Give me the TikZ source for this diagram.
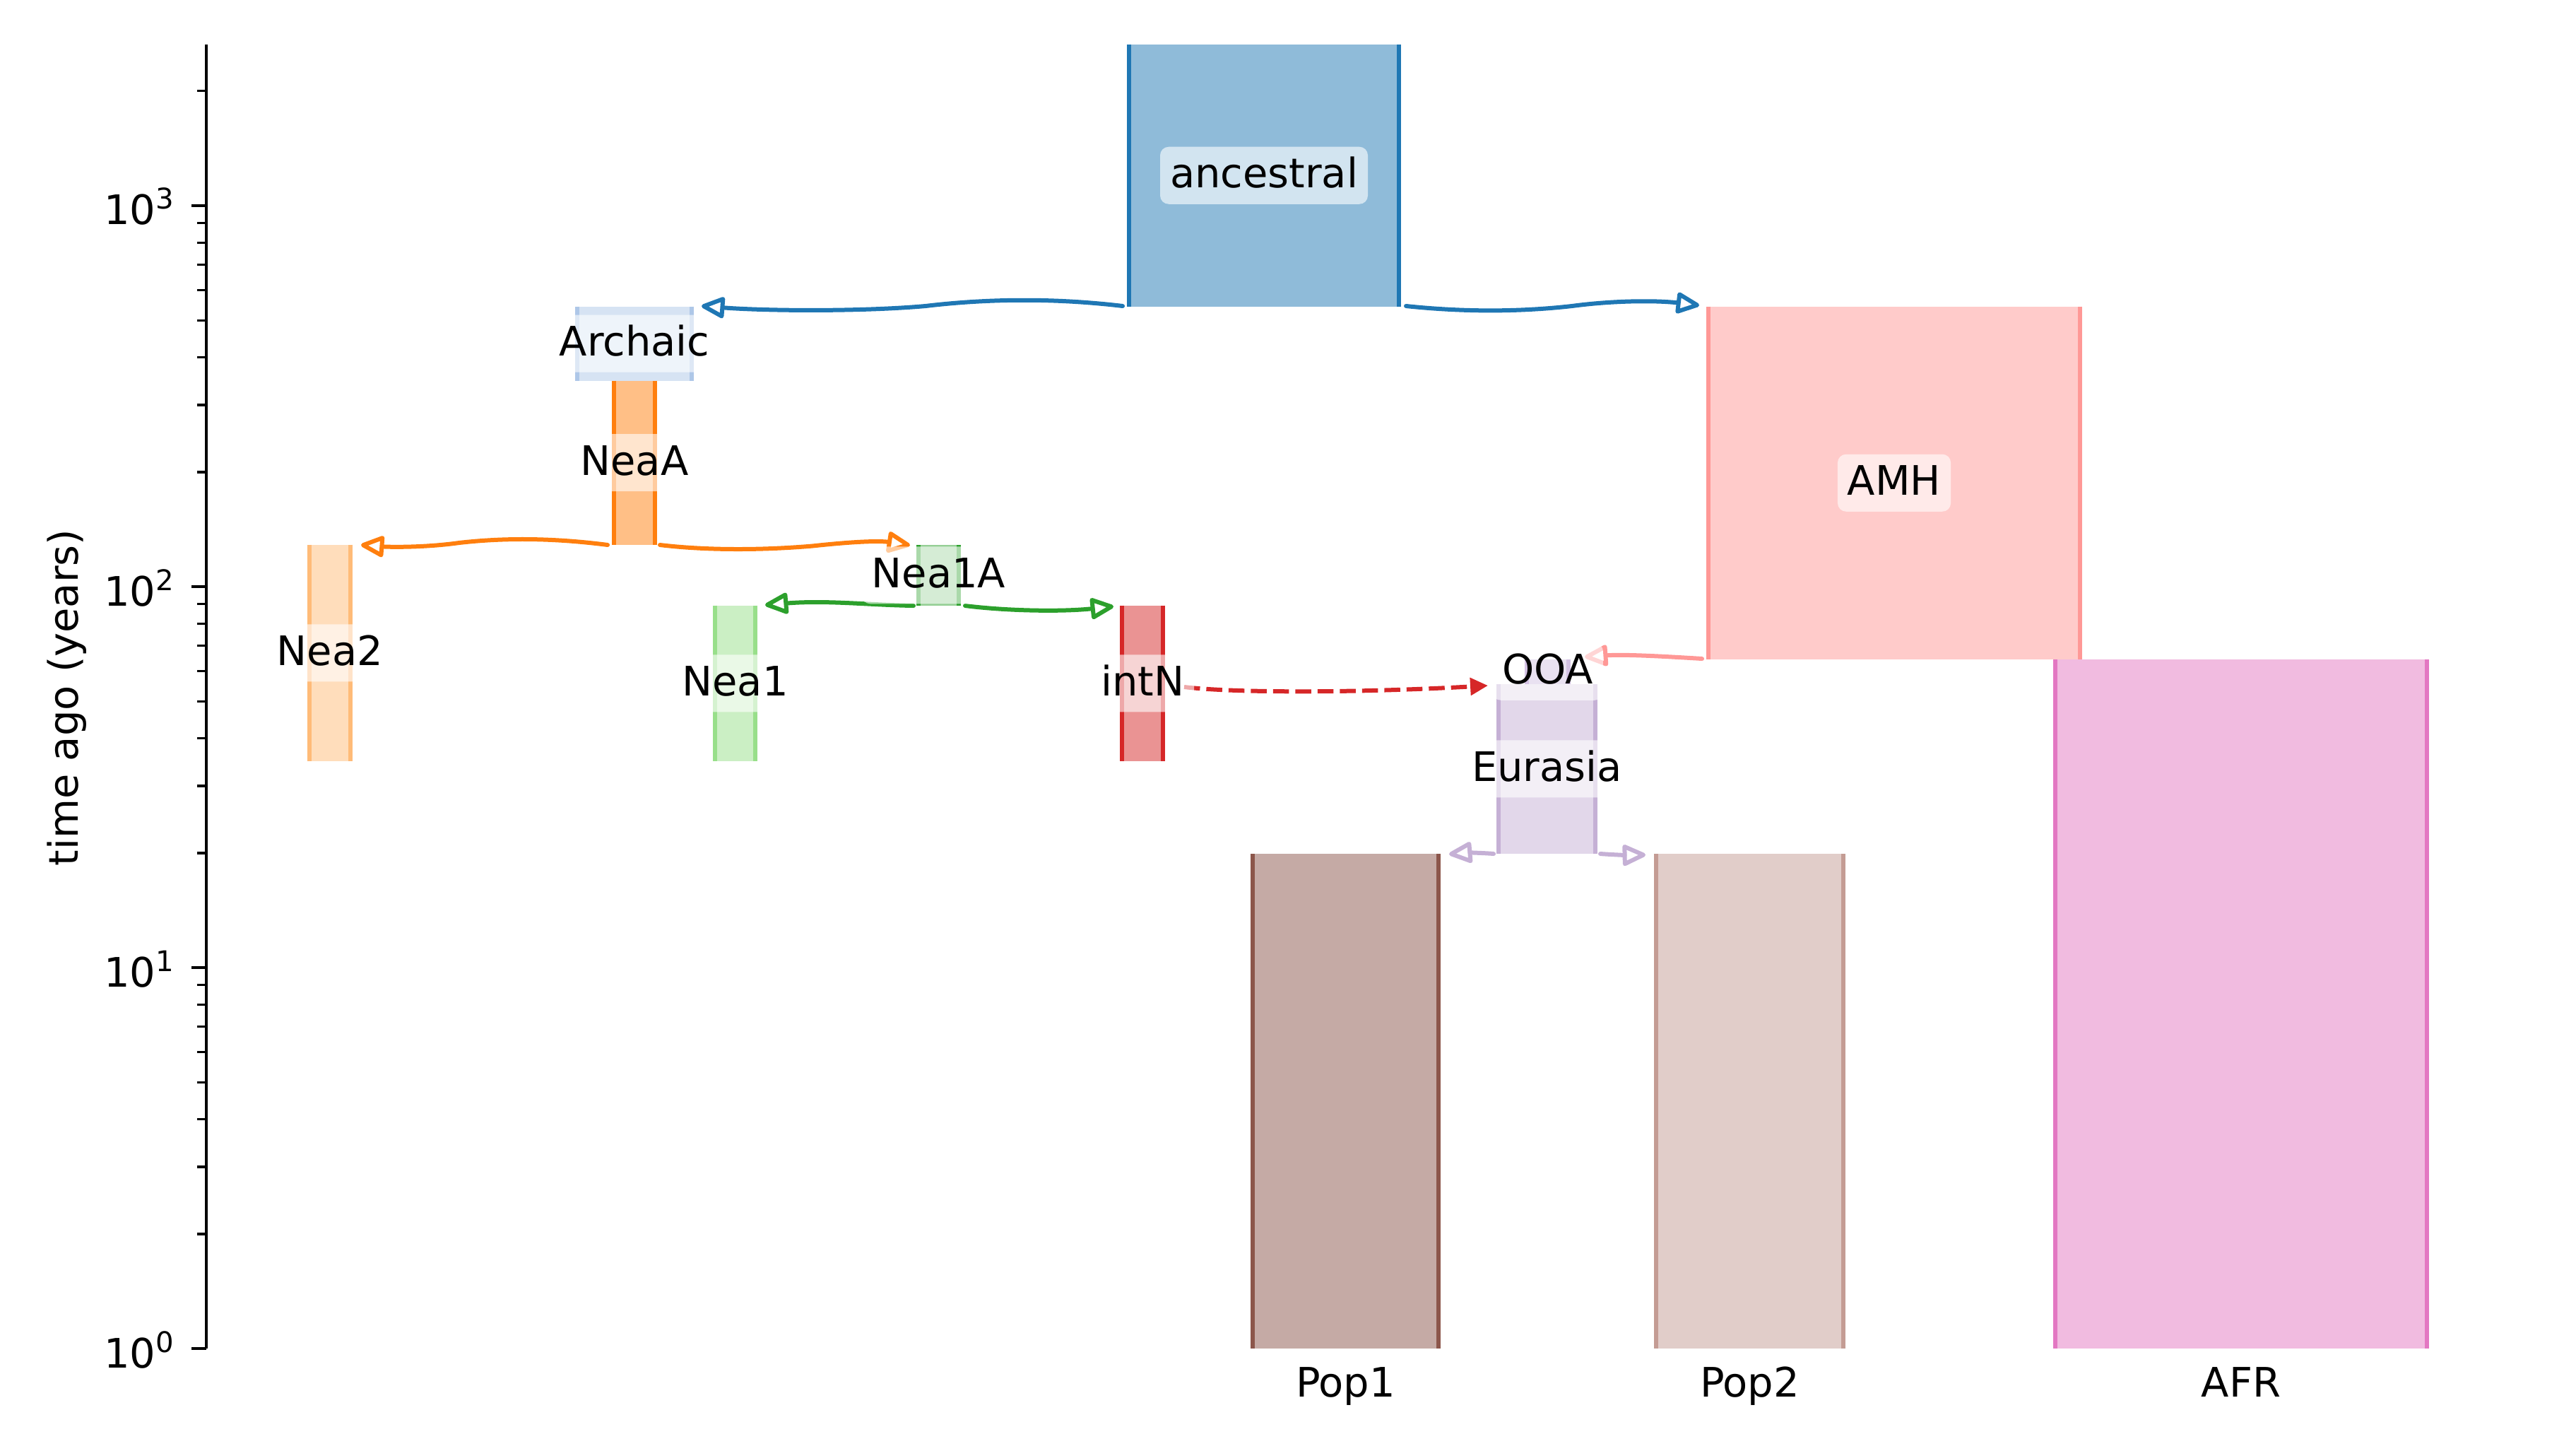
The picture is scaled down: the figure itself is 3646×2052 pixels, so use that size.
\documentclass[tikz,border=0pt]{standalone}
\usepackage{fontspec}
\setmainfont{DejaVu Sans}
\usetikzlibrary{arrows.meta}
\definecolor{c0}{HTML}{1F77B4}
\definecolor{c1}{HTML}{AEC7E8}
\definecolor{c2}{HTML}{FF7F0E}
\definecolor{c3}{HTML}{FFBB78}
\definecolor{c4}{HTML}{2CA02C}
\definecolor{c5}{HTML}{98DF8A}
\definecolor{c6}{HTML}{D62728}
\definecolor{c7}{HTML}{FF9896}
\definecolor{c8}{HTML}{9467BD}
\definecolor{c9}{HTML}{C5B0D5}
\definecolor{c10}{HTML}{8C564B}
\definecolor{c11}{HTML}{C49C94}
\definecolor{c12}{HTML}{E377C2}
\newcommand{\mylabfont}{\fontsize{11.5pt}{13.8pt}\selectfont}
\newcommand{\mysupfont}{\fontsize{8.05pt}{9.7pt}\selectfont}
\newcommand{\tpow}[1]{10\raisebox{4.4pt}{\mysupfont #1}}
\newcommand{\mkdeme}[6]{%
  \node[demebox, fill=#2, minimum width={#4*0.2pt}, minimum height={(#6-#5)*0.2pt}] (#1) at (#3,{(#5+#6)/2}) {};
  \draw[demeedge, draw=#2] (#1.north west) -- (#1.south west) (#1.north east) -- (#1.south east);
}
\begin{document}
\begin{tikzpicture}[x=0.2pt,y=-0.2pt,
  demebox/.style={rectangle, draw=none, inner sep=0pt, outer sep=0pt, fill opacity=0.5},
  demeedge/.style={line width=1.15pt},
  lab/.style={rectangle, rounded corners=2.4pt, fill=white, fill opacity=0.6, text opacity=1,
    inner xsep=2.8pt, inner ysep=0pt, text height=11.6pt, text depth=4.6pt, font=\mylabfont},
  conn/.style={line width=1.2pt, line cap=round, line join=round},
  ohead/.style={-{Triangle[open, length=7.4pt, width=6.4pt, round]}},
  fhead/.style={-{Triangle[length=5pt, width=4.8pt]}},
  majtick/.style={line width=0.92pt},
  mintick/.style={line width=0.69pt},
  ticklab/.style={inner sep=0pt, font=\mylabfont}]
\useasboundingbox (0,0) rectangle (3646,2052);

% demes: name, colour, centre x, width, top y, bottom y
\mkdeme{anc}{c0}{1789}{382}{63}{433.5}
\mkdeme{arc}{c1}{898}{162}{433.5}{538.5}
\mkdeme{neaA}{c2}{898}{58}{538.5}{770.5}
\mkdeme{nea2}{c3}{467}{58}{770.5}{1077}
\mkdeme{nea1A}{c4}{1328.5}{57}{771}{856.5}
\mkdeme{nea1}{c5}{1040.5}{57}{856.5}{1077}
\mkdeme{intN}{c6}{1617}{58}{856.5}{1077}
\mkdeme{amh}{c7}{2681}{526}{433.5}{933}
\mkdeme{ooa}{c8}{2190.5}{59}{933}{967.5}
\mkdeme{eur}{c9}{2189.5}{137}{967.5}{1208}
\mkdeme{pop1}{c10}{1904.5}{263}{1208}{1908}
\mkdeme{pop2}{c11}{2476.5}{265}{1208}{1908}
\mkdeme{afr}{c12}{3172}{526}{933}{1908}

% connector end points
\coordinate (anc-l) at (1589,433);
\coordinate (m1) at (1310,433);
\coordinate (arc-r) at (993,433);
\coordinate (anc-r) at (1990,433);
\coordinate (m2) at (2225,433);
\coordinate (amh-l) at (2405,432);
\coordinate (neaA-l) at (860,771);
\coordinate (m3) at (650,768);
\coordinate (nea2-r) at (511,771);
\coordinate (neaA-r) at (934,771);
\coordinate (m4) at (1150,772.5);
\coordinate (nea1A-in) at (1288,771.5);
\coordinate (nea1A-l) at (1293,857);
\coordinate (nea1-r) at (1083,856);
\coordinate (nea1A-r) at (1366,857);
\coordinate (intN-l) at (1576,858);
\coordinate (intN-r) at (1676,972);
\coordinate (ooa-l) at (2106,970);
\coordinate (amh-bl) at (2409,932);
\coordinate (ooa-r) at (2243,929.5);
\coordinate (eur-bl) at (2114,1208);
\coordinate (pop1-r) at (2051,1208.5);
\coordinate (eur-br) at (2265,1208);
\coordinate (pop2-l) at (2329,1209.5);

% connectors
\draw[conn,c0,ohead] (anc-l) .. controls (1496,422) and (1403,422) .. (m1)
  .. controls (1220,441) and (1085,440) .. (arc-r);
\draw[conn,c0,ohead] (anc-r) .. controls (2070,441.5) and (2150,441.5) .. (m2)
  .. controls (2285,425) and (2345,425) .. (amh-l);
\draw[conn,c2,ohead] (neaA-l) .. controls (790,762) and (720,760) .. (m3)
  .. controls (600,775) and (550,774) .. (nea2-r);
\draw[conn,c2,ohead] (neaA-r) .. controls (1000,779) and (1080,778.5) .. (m4)
  .. controls (1210,766) and (1245,765) .. (nea1A-in);
\draw[conn,c4,ohead] (nea1A-l) .. controls (1230,856) and (1170,849) .. (nea1-r);
\draw[conn,c4,ohead] (nea1A-r) .. controls (1420,864) and (1500,866) .. (intN-l);
\draw[conn,c6,fhead,line cap=butt,dash pattern=on 4.5pt off 1.8pt] (intN-r) .. controls (1750,981) and (1930,980) .. (ooa-l);
\draw[conn,c7,ohead] (amh-bl) .. controls (2360,929) and (2300,925.5) .. (ooa-r);
\draw[conn,c9,ohead] (eur-bl) .. controls (2095,1206.5) and (2075,1206.5) .. (pop1-r);
\draw[conn,c9,ohead] (eur-br) .. controls (2285,1209.5) and (2305,1210) .. (pop2-l);

% labels
\node[lab] (ancL) at (anc) {ancestral};
\node[lab] (arcL) at (arc) {Archaic};
\node[lab] (neaAL) at (neaA) {NeaA};
\node[lab] (nea2L) at (nea2) {Nea2};
\node[lab] (nea1AL) at (nea1A) {Nea1A};
\node[lab] (nea1L) at (nea1) {Nea1};
\node[lab] (intNL) at (intN) {intN};
\node[lab] (amhL) at (amh) {AMH};
\node[lab] (ooaL) at (ooa) {OOA};
\node[lab] (eurL) at (eur) {Eurasia};

% axis
\coordinate (axtop) at (292,63);
\coordinate (axbot) at (292,1908);
\draw[majtick] (axtop) -- (axbot);
\foreach \k in {0,1,2,3} {
  \draw[majtick] (292,{1908-539*\k}) -- ++(-21,0);
  \node[ticklab, anchor=base east] (tl\k) at (247,{1908-539*\k+27}) {\tpow{\k}};
}
\foreach \k in {0,1,2} {
  \foreach \m in {2,...,9} {
    \draw[mintick] (292,{1908-539*(\k+log10(\m))}) -- ++(-13,0);
  }
}
\draw[mintick] (292,{1908-539*(3+log10(2))}) -- ++(-13,0);
\node[ticklab, rotate=90, anchor=base] (ylab) at (110,987) {time ago (years)};
\node[ticklab, anchor=base] (xl1) at (1904.5,1976) {Pop1};
\node[ticklab, anchor=base] (xl2) at (2476.5,1976) {Pop2};
\node[ticklab, anchor=base] (xl3) at (3172,1976) {AFR};
\end{tikzpicture}
\end{document}
